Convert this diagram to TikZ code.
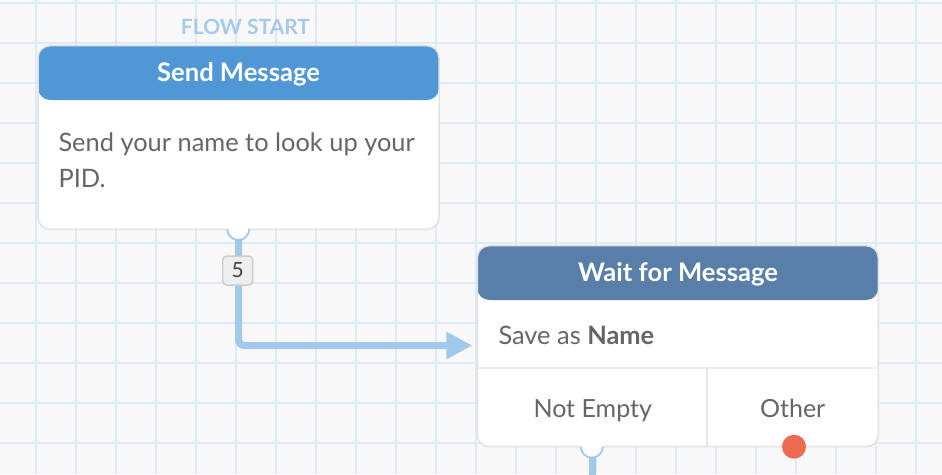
\documentclass[tikz,border=0pt]{standalone}
\usepackage{fontspec}
\setmainfont{Lato}
\usetikzlibrary{arrows.meta}
\definecolor{bgc}{HTML}{F8F8F8}
\definecolor{gridc}{HTML}{DDEBF9}
\definecolor{startc}{HTML}{A6CAEA}
\definecolor{hdrone}{HTML}{5097D5}
\definecolor{hdrtwo}{HTML}{597FA9}
\definecolor{boxborder}{HTML}{E2E2E2}
\definecolor{txtc}{HTML}{666666}
\definecolor{linkc}{HTML}{A0C9EB}
\definecolor{exitc}{HTML}{EE6B52}
\definecolor{sepc}{HTML}{E6EEF6}
\definecolor{vsepc}{HTML}{E6E6E6}
\definecolor{cntfill}{HTML}{EEEEEE}
\definecolor{cntdraw}{HTML}{CCCCCC}
\definecolor{cnttext}{HTML}{444444}
\tikzset{
  actionbox/.style={draw=boxborder, line width=1.5pt, fill=white, rounded corners=12pt,
    minimum width=401pt, inner sep=0pt},
  hdrfill/.style={path picture={\fill[#1] (path picture bounding box.north west) rectangle
    ([yshift=-54.3pt]path picture bounding box.north east);}},
  starttext/.style={text=startc, font=\fontsize{21}{26}\selectfont\bfseries, inner sep=0pt},
  hdrtext/.style={text=white, font=\fontsize{25.6}{30}\selectfont\bfseries, inner sep=0pt},
  bodytext/.style={text=txtc, font=\fontsize{25.4}{30}\selectfont, inner sep=0pt},
  casetext/.style={text=txtc, font=\fontsize{25}{30}\selectfont, inner sep=0pt},
  port/.style={circle, fill=white, minimum size=22pt, inner sep=0pt},
  exitdot/.style={circle, fill=exitc, minimum size=24pt, inner sep=0pt},
  link/.style={draw=linkc, line width=7pt},
  countlabel/.style={draw=cntdraw, line width=1.5pt, fill=cntfill, rounded corners=4pt,
    minimum width=30pt, minimum height=29pt, inner sep=0pt, text=cnttext,
    font=\fontsize{21}{24}\selectfont},
}
\begin{document}
\begin{tikzpicture}[x=1pt,y=-1pt]
\useasboundingbox (0,0) rectangle (942,474);
\fill[bgc] (0,0) rectangle (942,474);
\begin{scope}
\clip (0,0) rectangle (942,474);
\foreach \gx in {36,76,...,916} \draw[gridc, line width=1.2pt] (\gx,0) -- (\gx,474);
\foreach \gy in {3,43,...,443} \draw[gridc, line width=1.2pt] (0,\gy) -- (942,\gy);

% boxes
\node[actionbox, minimum height=183.6pt, hdrfill=hdrone] (send) at (238.5,137.5) {};
\node[actionbox, minimum height=201pt, hdrfill=hdrtwo] (wait) at (677.8,346.2) {};

% separators in wait box
\coordinate (sepl) at (478,368.3);
\coordinate (sepr) at (877,368.3);
\coordinate (vsept) at (706.7,368.3);
\coordinate (vsepb) at (706.7,446);
\draw[sepc, line width=1.8pt] (sepl) -- (sepr);
\draw[vsepc, line width=1.8pt] (vsept) -- (vsepb);

% connector
\coordinate (sendportc) at (238.5,229);
\coordinate (arrowend) at (472.3,345.5);
\draw[link, rounded corners=6pt, -{Triangle[length=26pt,width=26pt]}] (sendportc) |- (arrowend);

% exit line from wait box
\coordinate (waitportc) at (592,446.7);
\coordinate (waitexit) at (592,480);
\draw[link] (waitportc) -- (waitexit);

% ports
\node[port] (sendport) at (sendportc) {};
\draw[linkc, line width=1.8pt] (sendport.west) arc[start angle=180, end angle=360, radius=11pt];
\node[port] (waitport) at (waitportc) {};
\draw[linkc, line width=1.8pt] (waitport.west) arc[start angle=180, end angle=360, radius=11pt];
\node[exitdot] (otherexit) at (794,446.7) {};

% count label
\node[countlabel] (count) at (237.7,270.5) {5};

% texts
\node[starttext, anchor=base] (flowstart) at (245.5,34.3) {FLOW START};
\node[hdrtext, anchor=base] (sendtitle) at (238.5,81.7) {Send Message};
\node[bodytext, anchor=base west] (body1) at (58.3,151.7) {Send your name to look up your};
\node[bodytext, anchor=base west] (body2) at (58.3,187.7) {PID.};
\node[hdrtext, anchor=base] (waittitle) at (678,281.7) {Wait for Message};
\node[bodytext, anchor=base west] (saveas) at (498.3,344) {Save as \textbf{Name}};
\node[casetext, anchor=base] (notempty) at (592.7,417.3) {Not Empty};
\node[casetext, anchor=base] (other) at (792.7,417.3) {Other};
\end{scope}
\end{tikzpicture}
\end{document}
